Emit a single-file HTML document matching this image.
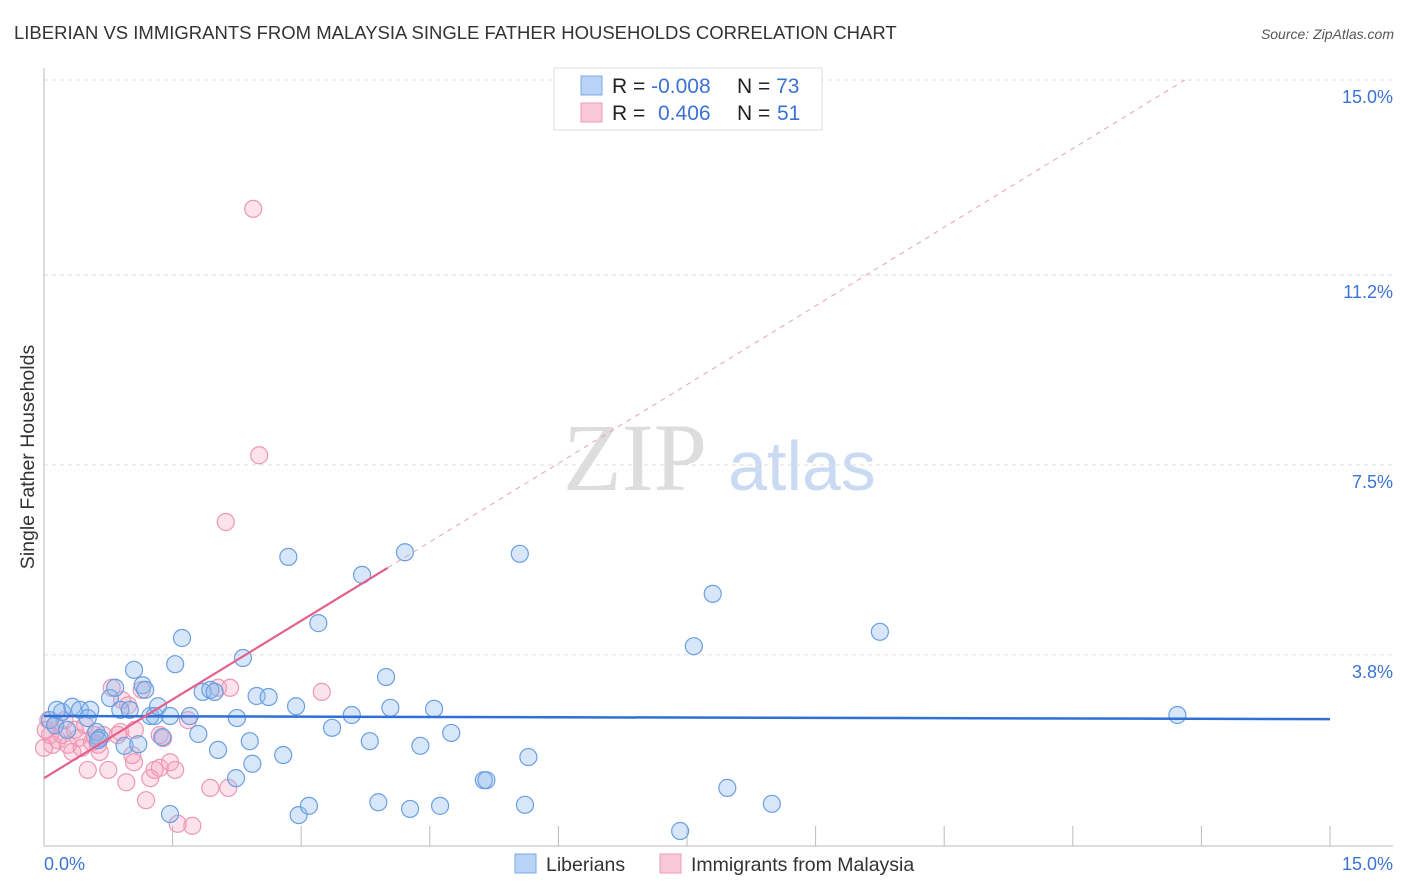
<!DOCTYPE html>
<html><head><meta charset="utf-8"><style>
body{margin:0;background:#fff;width:1406px;height:892px;overflow:hidden;font-family:"Liberation Sans",sans-serif}
</style></head><body>
<svg id="chart" width="1406" height="892" style="position:absolute;left:0;top:0">
<text x="14" y="39" font-size="18.5" fill="#333">LIBERIAN VS IMMIGRANTS FROM MALAYSIA SINGLE FATHER HOUSEHOLDS CORRELATION CHART</text>
<text x="1394" y="39" font-size="14" fill="#555" font-style="italic" text-anchor="end">Source: ZipAtlas.com</text>
<text transform="translate(34,457) rotate(-90)" font-size="19.5" fill="#333" text-anchor="middle">Single Father Households</text>
<g>
<text x="635" y="490" font-size="96" font-family="Liberation Serif,serif" fill="#ddd" text-anchor="middle">ZIP</text>
<text x="802" y="490" font-size="70" fill="#c9daf2" text-anchor="middle">atlas</text>
</g>
<g id="grid"></g>
<g id="axes"></g>
<g id="pts"></g>
<g id="lines"></g>
<g>
<rect x="554" y="68" width="268" height="62" fill="#fff" stroke="#ddd"/>
<rect x="581" y="76" width="21" height="19" fill="#b8d3f5" stroke="#7aa8e6"/>
<rect x="581" y="103" width="21" height="19" fill="#f9c8d8" stroke="#ee9ab6"/>
<text x="612" y="93" font-size="21" fill="#222">R = <tspan fill="#3b73d4">-0.008</tspan><tspan x="737">N = </tspan><tspan fill="#3b73d4">73</tspan></text>
<text x="612" y="120" font-size="21" fill="#222">R = <tspan x="658" fill="#3b73d4">0.406</tspan><tspan x="737">N = </tspan><tspan x="777" fill="#3b73d4">51</tspan></text>
</g>
<g>
<rect x="515" y="854" width="21" height="19" fill="#b8d3f5" stroke="#7aa8e6"/>
<text x="546" y="871" font-size="19.5" fill="#333">Liberians</text>
<rect x="660" y="854" width="21" height="19" fill="#f9c8d8" stroke="#ee9ab6"/>
<text x="691" y="871" font-size="19.5" fill="#333">Immigrants from Malaysia</text>
</g>
</svg>
<script>
const yTicks=[3.8,7.5,11.2,15.0];
const yTickLabels=["3.8%","7.5%","11.2%","15.0%"];
const xTickVals=[0,1.5,3,4.5,6,7.5,9,10.5,12,13.5,15];
const blueX=[0.07,0.13,0.21,0.33,0.42,0.54,0.51,0.61,0.65,0.77,0.83,0.89,0.94,1.00,1.05,1.10,1.15,1.24,1.29,1.33,1.38,1.47,1.53,1.61,1.70,1.80,1.85,1.94,1.99,2.03,2.25,2.24,2.32,2.40,2.43,2.48,2.62,2.79,2.85,2.94,2.97,3.09,3.20,3.36,3.59,3.71,3.80,3.90,3.99,4.04,4.21,4.27,4.39,4.55,4.62,4.75,5.13,5.16,5.55,5.61,5.65,7.42,7.58,7.80,7.97,8.49,9.75,13.22,1.47,0.15,0.27,0.63,1.18];
const blueY=[2.53,2.43,2.69,2.79,2.73,2.73,2.57,2.30,2.18,2.96,3.16,2.73,2.03,2.73,3.51,2.06,3.21,2.61,2.61,2.80,2.20,2.61,3.62,4.13,2.61,2.26,3.08,3.12,3.08,1.95,2.57,1.40,3.74,2.12,1.68,3.00,2.98,1.85,5.71,2.80,0.68,0.86,4.42,2.38,2.63,5.36,2.12,0.93,3.37,2.77,5.80,0.80,2.03,2.75,0.86,2.28,1.36,1.36,5.77,0.88,1.81,0.37,3.97,4.99,1.21,0.90,4.25,2.63,0.70,2.73,2.34,2.14,3.12];
const pinkX=[0.05,0.07,0.10,0.16,0.21,0.28,0.33,0.40,0.44,0.51,0.56,0.63,0.65,0.69,0.75,0.79,0.86,0.91,0.96,0.98,1.03,1.05,1.14,1.19,1.24,1.29,1.35,1.39,1.47,1.53,1.56,1.68,1.73,1.94,2.03,2.12,2.15,2.17,2.44,2.51,3.24,0.00,0.02,0.13,0.24,0.36,0.48,0.59,0.89,1.06,1.35];
const pinkY=[2.53,2.24,2.05,2.14,2.24,2.05,1.91,2.18,1.99,1.56,2.10,2.05,1.91,2.24,1.56,3.16,2.24,2.92,1.32,2.82,1.85,1.71,3.12,0.97,1.40,1.56,1.60,2.18,1.71,1.56,0.51,2.53,0.47,1.21,3.16,6.39,1.21,3.16,12.49,7.69,3.08,1.99,2.34,2.43,2.53,2.34,2.43,2.24,2.30,2.34,2.24];
const blueTrend=[2.61,2.55];
const pinkTrend=[1.40,1.022];
const NS='http://www.w3.org/2000/svg';
const X0=44,X1=1330,Y0=850,Y1=80;
const sx=v=>X0+v/15*(X1-X0);
const sy=v=>Y0-v/15*(Y0-Y1);
function mk(p,t,a){const e=document.createElementNS(NS,t);for(const k in a)e.setAttribute(k,a[k]);p.appendChild(e);return e;}
const grid=document.getElementById('grid'),axes=document.getElementById('axes'),pts=document.getElementById('pts'),lines=document.getElementById('lines');
yTicks.forEach((v,i)=>{
 const l=mk(grid,'line',{x1:X0,x2:1393,y1:sy(v),y2:sy(v),stroke:'#ddd','stroke-dasharray':'4,4'});
 
 
 const t=mk(axes,'text',{x:1393,y:sy(v)+23,'font-size':18,fill:'#3b73d4','text-anchor':'end'});
 t.textContent=yTickLabels[i];
 
 
});
let a=mk(axes,'line',{x1:X0,x2:X0,y1:68,y2:846,stroke:'#bbb'});


a=mk(axes,'line',{x1:X0,x2:1393,y1:846,y2:846,stroke:'#bbb'});


xTickVals.forEach(v=>{
 const t=mk(axes,'line',{x1:sx(v),x2:sx(v),y1:826,y2:846,stroke:'#bbb'});
 
 
});
let xl=mk(axes,'text',{x:44,y:870,'font-size':18,fill:'#3b73d4'});xl.textContent='0.0%';


xl=mk(axes,'text',{x:1393,y:870,'font-size':18,fill:'#3b73d4','text-anchor':'end'});xl.textContent='15.0%';


pinkX.forEach((v,i)=>{
 const c=mk(pts,'circle',{cx:sx(v),cy:sy(pinkY[i]),r:8.5,fill:'rgba(244,160,188,0.3)',stroke:'#ec98b4','stroke-width':1.2});
 
 
});
blueX.forEach((v,i)=>{
 const c=mk(pts,'circle',{cx:sx(v),cy:sy(blueY[i]),r:8.5,fill:'rgba(140,185,238,0.35)',stroke:'#6a9fe0','stroke-width':1.2});
 
 
});
let ln=mk(lines,'line',{x1:sx(0),y1:sy(blueTrend[0]),x2:sx(15),y2:sy(blueTrend[1]),stroke:'#2f6fd6','stroke-width':2.5});


const pxEnd=(15-pinkTrend[0])/pinkTrend[1];
ln=mk(lines,'line',{x1:sx(4.01),y1:sy(pinkTrend[0]+pinkTrend[1]*4.01),x2:sx(pxEnd),y2:sy(15),stroke:'#e8a0b8','stroke-width':1,'stroke-dasharray':'5,5'});


ln=mk(lines,'line',{x1:sx(0),y1:sy(pinkTrend[0]),x2:sx(4.01),y2:sy(pinkTrend[0]+pinkTrend[1]*4.01),stroke:'#e4608e','stroke-width':2.2});


</script>
</body></html>
